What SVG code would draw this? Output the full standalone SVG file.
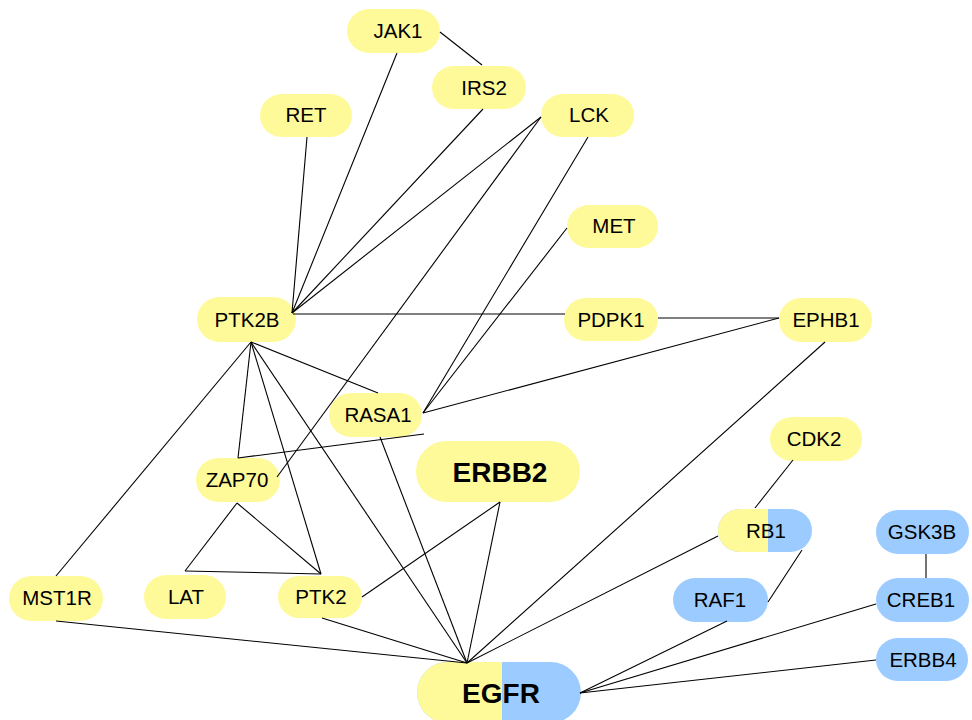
<svg xmlns="http://www.w3.org/2000/svg" width="972" height="720" viewBox="0 0 972 720">
<style>
.y{fill:#FEFA9A}
.b{fill:#9CCCFF}
.t{font-family:"Liberation Sans",Arial,sans-serif;font-size:20.5px;fill:#000;text-anchor:middle}
.tb{font-family:"Liberation Sans",Arial,sans-serif;font-size:28px;font-weight:bold;fill:#000;text-anchor:middle}
#edges line{stroke:#000;stroke-width:1.1}
</style>
<defs>
<clipPath id="cRB1"><rect x="718" y="509" width="94" height="43" rx="21.5"/></clipPath>
<clipPath id="cEGFR"><rect x="417" y="662" width="164" height="61" rx="30.5"/></clipPath>
</defs>
<rect width="972" height="720" fill="#fff"/>
<g id="nodes">
<g id="JAK1"><rect class="y" x="347" y="9" width="93" height="44" rx="22"/><text class="t" x="398" y="38">JAK1</text></g>
<g id="IRS2"><rect class="y" x="432" y="66" width="94" height="43" rx="21.5"/><text class="t" x="484" y="95">IRS2</text></g>
<g id="RET"><rect class="y" x="260" y="94" width="92" height="43" rx="21.5"/><text class="t" x="306" y="122">RET</text></g>
<g id="LCK"><rect class="y" x="541" y="94" width="93" height="43" rx="21.5"/><text class="t" x="589" y="122">LCK</text></g>
<g id="MET"><rect class="y" x="567" y="205" width="91" height="43" rx="21.5"/><text class="t" x="614" y="233">MET</text></g>
<g id="PDPK1"><rect class="y" x="564" y="298" width="94" height="43" rx="21.5"/><text class="t" x="611" y="327">PDPK1</text></g>
<g id="EPHB1"><rect class="y" x="779" y="298" width="93" height="44" rx="22"/><text class="t" x="826" y="327">EPHB1</text></g>
<g id="PTK2B"><rect class="y" x="197" y="297" width="99" height="45" rx="22.5"/><text class="t" x="247" y="327">PTK2B</text></g>
<g id="RASA1"><rect class="y" x="329" y="393" width="93" height="44" rx="22"/><text class="t" x="378" y="422">RASA1</text></g>
<g id="ERBB2"><rect class="y" x="416" y="441" width="164" height="61" rx="30.5"/><text class="tb" x="500" y="482">ERBB2</text></g>
<g id="CDK2"><rect class="y" x="770" y="417" width="92" height="44" rx="22"/><text class="t" x="814" y="446">CDK2</text></g>
<g id="ZAP70"><rect class="y" x="196" y="458" width="84" height="44" rx="22"/><text class="t" x="237" y="487">ZAP70</text></g>
<g id="RB1"><rect class="b" x="718" y="509" width="94" height="43" rx="21.5"/><rect class="y" x="718" y="509" width="50" height="43" clip-path="url(#cRB1)"/><text class="t" x="766" y="538">RB1</text></g>
<g id="GSK3B"><rect class="b" x="876" y="510" width="93" height="44" rx="22"/><text class="t" x="922" y="539">GSK3B</text></g>
<g id="CREB1"><rect class="b" x="876" y="578" width="93" height="44" rx="22"/><text class="t" x="921" y="607">CREB1</text></g>
<g id="ERBB4"><rect class="b" x="876" y="638" width="92" height="43" rx="21.5"/><text class="t" x="923" y="667">ERBB4</text></g>
<g id="RAF1"><rect class="b" x="673" y="578" width="95" height="44" rx="22"/><text class="t" x="720" y="607">RAF1</text></g>
<g id="MST1R"><rect class="y" x="9" y="576" width="94" height="45" rx="22.5"/><text class="t" x="57" y="605">MST1R</text></g>
<g id="LAT"><rect class="y" x="144" y="575" width="82" height="44" rx="22"/><text class="t" x="186" y="604">LAT</text></g>
<g id="PTK2"><rect class="y" x="278" y="576" width="84" height="42" rx="21"/><text class="t" x="321" y="604">PTK2</text></g>
<g id="EGFR"><rect class="b" x="417" y="662" width="164" height="61" rx="30.5"/><rect class="y" x="417" y="662" width="85" height="61" clip-path="url(#cEGFR)"/><text class="tb" x="501" y="703">EGFR</text></g>
</g>
<g id="edges">
<line x1="440" y1="32" x2="482" y2="65"/>
<line x1="397" y1="53" x2="292" y2="313"/>
<line x1="307" y1="137" x2="292" y2="313"/>
<line x1="483" y1="109" x2="292" y2="313"/>
<line x1="541" y1="117" x2="292" y2="313"/>
<line x1="541" y1="117" x2="277" y2="477"/>
<line x1="588" y1="137" x2="423" y2="413"/>
<line x1="567" y1="228" x2="423" y2="413"/>
<line x1="293" y1="314" x2="565" y2="314"/>
<line x1="658" y1="318" x2="779" y2="318"/>
<line x1="779" y1="318" x2="423" y2="413"/>
<line x1="825" y1="342" x2="467" y2="663"/>
<line x1="251" y1="342" x2="378" y2="393"/>
<line x1="251" y1="342" x2="238" y2="458"/>
<line x1="251" y1="342" x2="321" y2="574"/>
<line x1="251" y1="342" x2="467" y2="663"/>
<line x1="251" y1="342" x2="56" y2="576"/>
<line x1="238" y1="458" x2="424" y2="434"/>
<line x1="237" y1="503" x2="185" y2="571"/>
<line x1="237" y1="503" x2="321" y2="574"/>
<line x1="185" y1="571" x2="321" y2="574"/>
<line x1="362" y1="597" x2="500" y2="502"/>
<line x1="500" y1="502" x2="467" y2="663"/>
<line x1="380" y1="437" x2="467" y2="663"/>
<line x1="322" y1="618" x2="467" y2="663"/>
<line x1="56" y1="621" x2="467" y2="663"/>
<line x1="793" y1="460" x2="755" y2="508"/>
<line x1="718" y1="536" x2="467" y2="663"/>
<line x1="802" y1="550" x2="768" y2="602"/>
<line x1="727" y1="621" x2="580" y2="693"/>
<line x1="876" y1="604" x2="580" y2="693"/>
<line x1="876" y1="660" x2="580" y2="693"/>
<line x1="926" y1="554" x2="926" y2="578"/>
</g>
</svg>
